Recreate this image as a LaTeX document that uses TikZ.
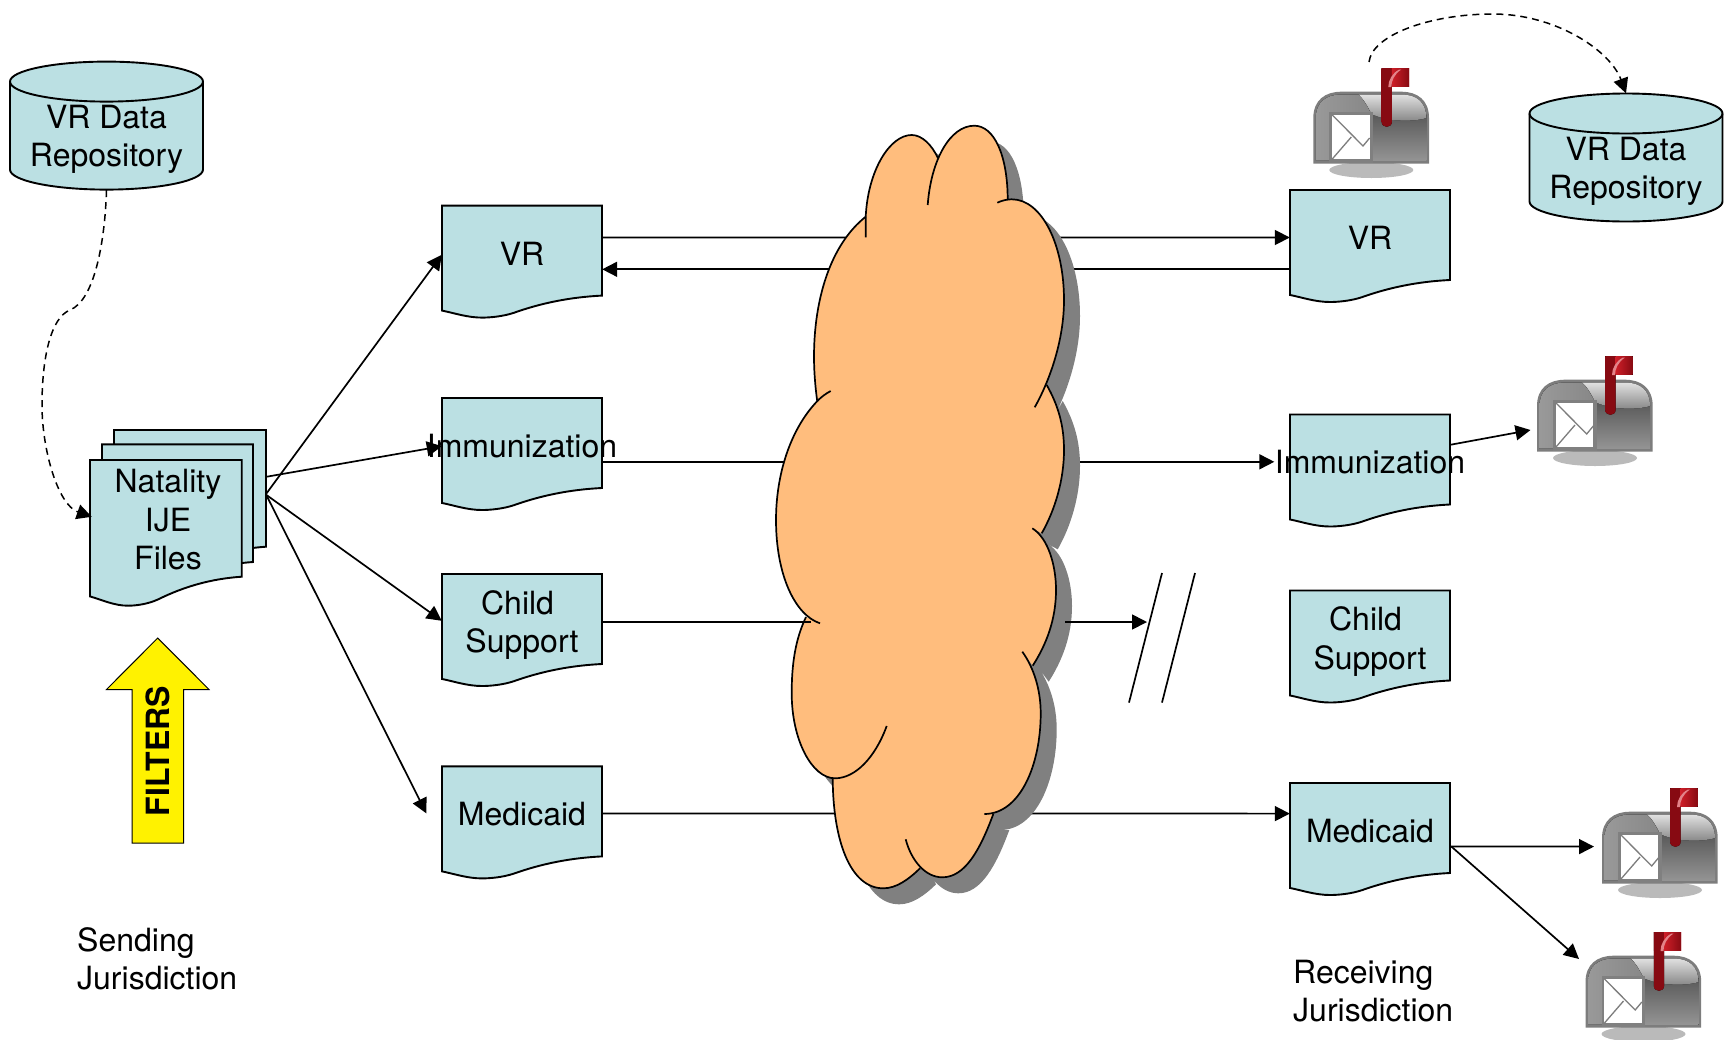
\documentclass[tikz,border=0pt]{standalone}
\usepackage{fontspec}
\setmainfont{TeX Gyre Heros}
\usetikzlibrary{arrows.meta,calc}
\definecolor{docfill}{RGB}{187,224,227}
\definecolor{cloudfill}{RGB}{255,189,125}
\definecolor{shadowgray}{RGB}{128,128,128}
\definecolor{mbline}{RGB}{125,125,125}
\definecolor{mbred}{RGB}{205,30,40}
\definecolor{mbdark}{RGB}{135,10,18}
\newcommand{\bodyfont}{\fontsize{32}{38.5}\selectfont}
\tikzset{
  >={Triangle[length=15pt,width=15pt]},
  line/.style={line width=1.7pt,draw=black},
  conn/.style={line,->},
  dashconn/.style={line width=1.5pt,draw=black,dash pattern=on 7pt off 5pt,->},
  docshape/.style={line width=1.9pt,draw=black,fill=docfill},
  docbox/.style={inner sep=0pt,minimum height=96pt,minimum width=160pt,align=center,font=\bodyfont},
  repobox/.style={inner sep=0pt,minimum height=108pt,minimum width=193pt,align=center,font=\bodyfont},
  caption/.style={inner sep=0pt,align=left,anchor=west,font=\bodyfont},
  mailbox/.pic={
    \coordinate (-anchor) at (0,0);
    \fill[black!27] (58,102) ellipse [x radius=42pt,y radius=8pt];
    \fill[mbline] (0,95.5) -- (0,50) .. controls (0,32) and (12,23.7) .. (28,23.7) -- (88,23.7) .. controls (104,23.7) and (115.7,32) .. (115.7,50) -- (115.7,95.5) -- cycle;
    \fill[top color=black!65,bottom color=black!42] (58,46) rectangle (113,92.5);
    \fill[top color=black!12,bottom color=black!48] (45,26.5) -- (88,26.5) .. controls (103,26.5) and (113,34) .. (113,50) .. controls (100,54) and (75,54) .. (58,46) .. controls (54,38) and (50,31) .. (45,26.5) -- cycle;
    \fill[left color=black!40,right color=black!47] (2.5,92.5) -- (2.5,50) .. controls (2.5,34) and (13,26.5) .. (28,26.5) -- (45,26.5) .. controls (50,31) and (54,38) .. (58,46) -- (58,92.5) -- cycle;
    \fill[black!50] (16,44) rectangle (59.5,95);
    \fill[white] (18.7,46.7) rectangle (56.3,91.3);
    \draw[mbline,line width=1.3pt] (18.7,46.7) -- (49.7,78) -- (56.3,70);
    \draw[mbline,line width=1.3pt] (18.7,91.3) -- (38,69);
    \fill[left color=mbdark,right color=mbred] (68.3,0) rectangle (95.7,18.7);
    \fill[left color=mbdark,middle color=mbred,right color=mbdark] (68.3,0) -- (78.6,0) -- (78.6,53.7) .. controls (78.6,60.5) and (68.3,60.5) .. (68.3,53.7) -- cycle;
    \fill[right color=mbdark,left color=mbred] (78.6,0) rectangle (95.7,18.7);
    \fill[mbred!55] (86,1.5) .. controls (79,5) and (75,12) .. (75,19) -- (78,19) .. controls (78,13) and (81,6) .. (88,1.5) -- cycle;
  }
}
\newcommand{\docpath}[5]{%
  \draw[docshape,shift={(#1,#2)}] (0,0) -- (#3,0) -- (#3,#4)
    .. controls ({0.8*#3},{#4+0.07*#5}) and ({0.62*#3},{#4+0.34*#5}) .. ({0.45*#3},{#4+0.78*#5})
    .. controls ({0.38*#3},{#4+0.95*#5}) and ({0.3*#3},{#4+#5}) .. ({0.25*#3},{#4+#5})
    .. controls ({0.16*#3},{#4+#5}) and ({0.08*#3},{#4+0.8*#5}) .. (0,{#4+0.68*#5}) -- cycle;}
\newcommand{\repopath}[2]{%
  \draw[docshape,shift={(#1,#2)}] (0,20) .. controls (0,9) and (43.2,0) .. (96.5,0) .. controls (149.8,0) and (193,9) .. (193,20) -- (193,108) .. controls (193,119) and (149.8,128) .. (96.5,128) .. controls (43.2,128) and (0,119) .. (0,108) -- cycle;
  \draw[docshape,fill=none,shift={(#1,#2)}] (0,20) .. controls (0,31) and (43.2,40) .. (96.5,40) .. controls (149.8,40) and (193,31) .. (193,20);}
\def\lobeA{(865.7,237.3) -- (865.7,216.7) .. controls (868,170) and (890,135) .. (911.7,135) .. controls (922,135) and (932,145) .. (938,158.3)}
\def\lobeB{(927.7,205) .. controls (931,160) and (950,125.7) .. (974.3,125.7) .. controls (994,125.7) and (1007.7,155) .. (1007.7,200)}
\def\lobeC{(997.3,202.7) .. controls (1002,200.5) and (1007,199.3) .. (1011.7,199.3) .. controls (1042,199.3) and (1064,245) .. (1064,300) .. controls (1064,340) and (1050,380) .. (1034.7,407.3)}
\def\lobeD{(1046.7,385) .. controls (1058,405) and (1064,425) .. (1064,450) .. controls (1064,480) and (1055,510) .. (1041.7,533.3)}
\def\lobeE{(1032.3,528.3) .. controls (1048,538) and (1056,565) .. (1056,590) .. controls (1056,620) and (1046,645) .. (1032.7,665.7)}
\def\lobeF{(1022.3,651.7) .. controls (1034,668) and (1040.7,690) .. (1040.7,713.3) .. controls (1040.7,765) and (1020,814) .. (984.3,814)}
\def\lobeG{(993.3,814) .. controls (980,850) and (965,877.3) .. (942.3,877.3) .. controls (925,877.3) and (911,860) .. (905.7,839.3)}
\def\lobeH{(920,868.3) .. controls (908,880) and (896,888.3) .. (883.3,888.3) .. controls (850,888.3) and (833,840) .. (832.7,778.3)}
\def\lobeI{(886.7,726) .. controls (875,758) and (855,778.3) .. (835,778.3) .. controls (812,778.3) and (791.7,740) .. (791.7,693.3) .. controls (791.7,665) and (795,640) .. (806,617)}
\def\lobeJ{(820,623.3) .. controls (795,615) and (776,575) .. (776,520) .. controls (776,475) and (790,430) .. (816.7,401.7) .. controls (821,397) and (826,393.5) .. (830.7,391)}
\def\lobeK{(817.3,401.7) .. controls (815,385) and (814,370) .. (814,356.7) .. controls (814,300) and (830,245) .. (865.7,216.7)}
\edef\cloudoutline{\lobeA -- \lobeB -- \lobeC -- \lobeD -- \lobeE -- \lobeF -- \lobeG -- \lobeH -- \lobeI -- \lobeJ -- \lobeK -- cycle}
\begin{document}
\begin{tikzpicture}[x=1pt,y=-1pt]
\clip (0,0) rectangle (1724,1039);
\useasboundingbox (0,0) rectangle (1724,1039);
% repositories
\repopath{10}{61.6}
\node[repobox] (repoL) at (106.5,139.4) {VR Data\\Repository};
\repopath{1529.5}{93.5}
\node[repobox] (repoR) at (1626,171.3) {VR Data\\Repository};
% natality stack
\docpath{114}{430}{152}{116.7}{29}
\docpath{102}{444.3}{151}{117.7}{29}
\docpath{90}{460}{151.7}{116.7}{29}
\node[docbox,minimum width=152pt,minimum height=120pt] (nataBack) at (190,490) {};
\node[docbox,minimum width=152pt,minimum height=120pt] (nata) at (168,520) {Natality\\IJE\\Files};
% left documents
\docpath{442}{205.6}{160}{90}{22}
\node[docbox] (vrL) at (522,253.6) {VR};
\docpath{442}{398}{160}{90}{22}
\node[docbox] (immL) at (522,446) {\makebox[0pt]{Immunization}};
\docpath{442}{574}{160}{90}{22}
\node[docbox] (childL) at (522,625) {Child\hspace*{0.278em}\\Support};
\docpath{442}{766.4}{160}{90}{22}
\node[docbox] (medL) at (522,814.4) {Medicaid};
% right documents
\docpath{1290}{190}{160}{90}{22}
\node[docbox] (vrR) at (1370,238) {VR};
\docpath{1290}{414.5}{160}{90}{22}
\node[docbox] (immR) at (1370,462.5) {\makebox[0pt]{Immunization}};
\docpath{1290}{590.5}{160}{90}{22}
\node[docbox] (childR) at (1370,641.5) {Child\hspace*{0.278em}\\Support};
\docpath{1290}{783}{160}{90}{22}
\node[docbox] (medR) at (1370,831) {Medicaid};
% mailboxes
\pic (mbA) at (1313.3,68) {mailbox};
\pic (mbB) at (1537,356) {mailbox};
\pic (mbC) at (1602,788) {mailbox};
\pic (mbD) at (1585.5,932) {mailbox};
% dashed connectors
\draw[dashconn] ($(repoL.south)+(0,-3.4)$) .. controls (105,240) and (95,300) .. (70,310) .. controls (50,318) and (42,360) .. (42,405) .. controls (42,450) and (58,505) .. ($(nata.north west)+(0,57)$);
\draw[dashconn] ($(mbA-anchor)+(55.7,-6)$) .. controls (1372,35) and (1430,14) .. (1493,14) .. controls (1555,14) and (1610,50) .. ($(repoR.north)+(0,-23.8)$);
% natality fan-out
\draw[conn] ($(nataBack.north east)+(0,64)$) -- ($(vrL.north west)+(0,49.4)$);
\draw[conn] ($(nataBack.north east)+(0,47)$) -- ($(immL.north west)+(0,48.4)$);
\draw[conn] ($(nataBack.north east)+(0,65)$) -- ($(childL.north west)+(0,44)$);
\draw[conn] ($(nataBack.north east)+(0,65)$) -- ($(medL.north west)+(-15.4,47.2)$);
% links behind the cloud
\draw[conn] ($(vrL.north east)+(0,32)$) -- ($(vrR.north west)+(0,47.7)$);
\draw[conn] ($(vrR.north west)+(0,79.5)$) -- ($(vrL.north east)+(0,63.9)$);
\draw[conn] ($(immL.north east)+(0,64)$) -- ($(immR.north west)+(-15.5,47.5)$);
\draw[conn] ($(medL.north east)+(0,47.2)$) -- ($(medR.north west)+(0,30.8)$);
% cloud
\fill[shadowgray,shift={(16,16)}] \cloudoutline;
\fill[cloudfill] \cloudoutline;
\draw[line] \lobeA;
\draw[line] \lobeB;
\draw[line] \lobeC;
\draw[line] \lobeD;
\draw[line] \lobeE;
\draw[line] \lobeF;
\draw[line] \lobeG;
\draw[line] \lobeH;
\draw[line] \lobeI;
\draw[line] \lobeJ;
\draw[line] \lobeK;
% child support link after the cloud
\coordinate (childCloud) at (810.7,622);
\draw[line] ($(childL.east)+(0,-3)$) -- (childCloud);
\coordinate (childOut) at (1065,622);
\coordinate (breakEnd) at (1147,622);
\draw[conn] (childOut) -- (breakEnd);
% break marks
\coordinate (slashAa) at (1162,573);
\coordinate (slashAb) at (1129,702.6);
\coordinate (slashBa) at (1195,573);
\coordinate (slashBb) at (1162,702.6);
\draw[line] (slashAa) -- (slashAb);
\draw[line] (slashBa) -- (slashBb);
% mailbox links
\draw[conn] ($(immR.north east)+(0,30.5)$) -- ($(mbB-anchor)+(-6.5,74)$);
\draw[conn] ($(medR.north east)+(1,63.6)$) -- ($(mbC-anchor)+(-8,58.6)$);
\draw[conn] ($(medR.north east)+(1,63.6)$) -- ($(mbD-anchor)+(-6.5,27)$);
% filters arrow
\draw[draw=black,line width=1pt,fill=yellow] (157.7,638) -- (209,689.5) -- (183.6,689.5) -- (183.6,843) -- (132,843) -- (132,689.5) -- (106.5,689.5) -- cycle;
\node[inner sep=0pt,rotate=90,font=\bodyfont\bfseries] (filters) at (158,751) {FILTERS};
% captions
\node[caption] (sending) at (77,959) {Sending\\Jurisdiction};
\node[caption] (receiving) at (1293,991) {Receiving\\Jurisdiction};
\end{tikzpicture}
\end{document}
